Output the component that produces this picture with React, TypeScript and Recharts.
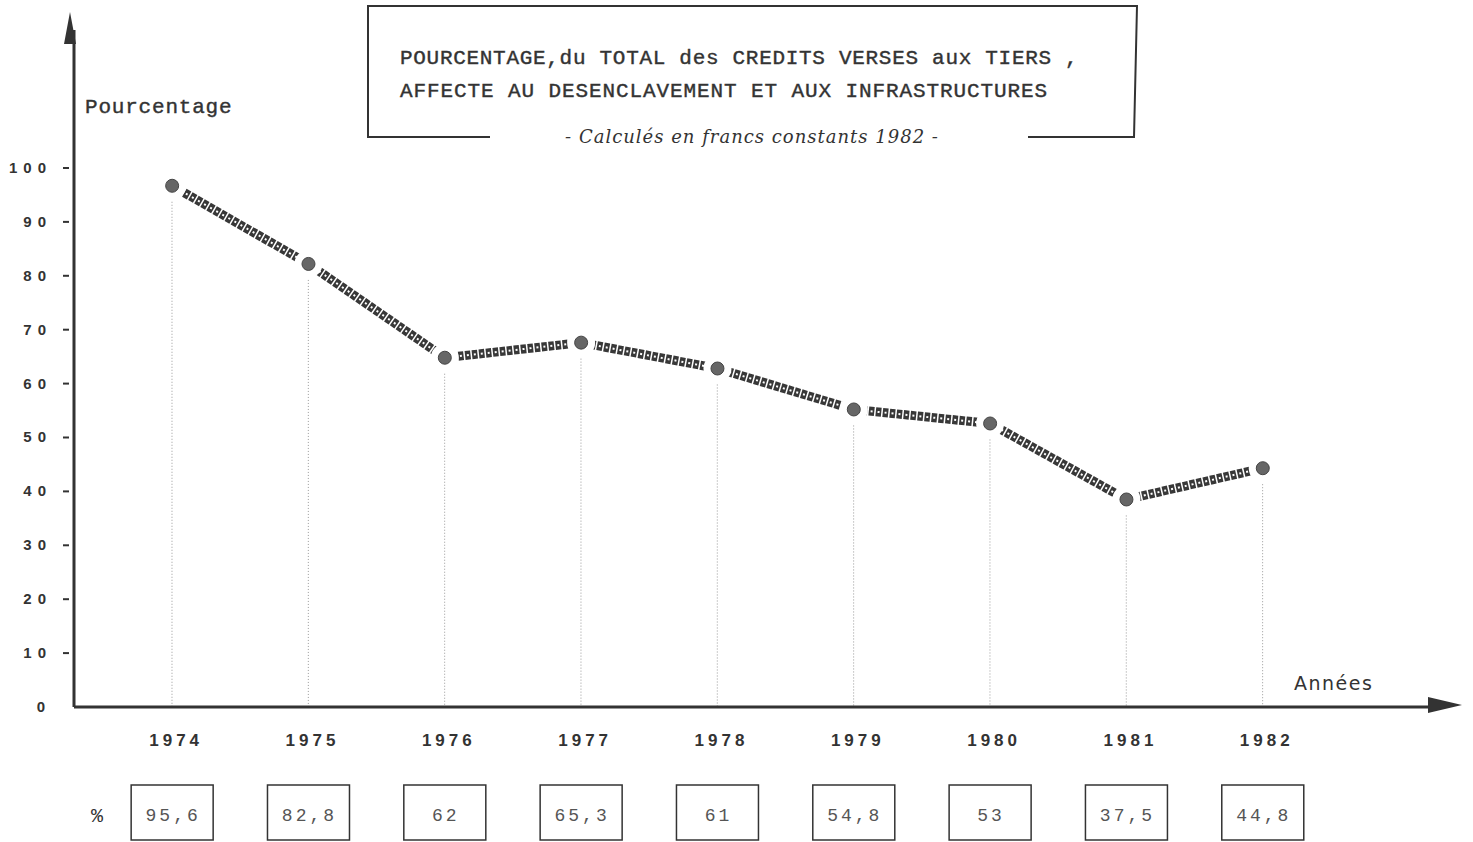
import { ComposedChart, Line, Bar, XAxis, YAxis } from "recharts";

const YEARS = [1974, 1975, 1976, 1977, 1978, 1979, 1980, 1981, 1982];
// position of the points as drawn on the plot
const PLOTTED = [96.7, 82.2, 64.8, 67.6, 62.8, 55.2, 52.6, 38.5, 44.3];
// values written in the boxes under the axis
const BOX_LABELS = ["95,6", "82,8", "62", "65,3", "61", "54,8", "53", "37,5", "44,8"];
const Y_TICKS = [0, 10, 20, 30, 40, 50, 60, 70, 80, 90, 100];

const TITLE_1 = "POURCENTAGE,du TOTAL des CREDITS VERSES aux TIERS ,";
const TITLE_2 = "AFFECTE AU DESENCLAVEMENT ET AUX INFRASTRUCTURES";
const SUBTITLE = "- Calculés en francs constants 1982 -";

const data = YEARS.map((year, i) => ({ year, value: PLOTTED[i] }));

const INK = "#333";
const MONO = "'Liberation Mono', 'DejaVu Sans Mono', monospace";
const NARROW = "'Liberation Sans Narrow', 'Liberation Sans', sans-serif";

function YTick(props: any) {
  const { x, y, payload } = props;
  if (payload.value === 0) {
    return (
      <text x={x - 33} y={y + 5} textAnchor="middle" fontFamily={NARROW} fontWeight="bold" fontSize={15} fill={INK}>
        0
      </text>
    );
  }
  return (
    <g>
      <text x={x - 22} y={y + 5} textAnchor="end" fontFamily={NARROW} fontWeight="bold" fontSize={15} letterSpacing={6} fill={INK}>
        {String(payload.value)}
      </text>
      <line x1={x - 11} x2={x - 5} y1={y} y2={y} stroke={INK} strokeWidth={2} />
    </g>
  );
}

function XTick(props: any) {
  const { x, y, payload } = props;
  const i = YEARS.indexOf(payload.value);
  return (
    <g>
      <text x={x + 4} y={y + 39} textAnchor="middle" fontFamily="Liberation Sans" fontWeight="bold" fontSize={17} letterSpacing={4} fill={INK}>
        {String(payload.value)}
      </text>
      <rect x={x - 41} y={y + 78} width={82} height={55} fill="none" stroke={INK} strokeWidth={1.5} />
      <text x={x + 1} y={y + 114} textAnchor="middle" fontFamily={MONO} fontSize={18} letterSpacing={3} fill="#555">
        {BOX_LABELS[i]}
      </text>
    </g>
  );
}

// dotted drop line from just under the point down to the axis
function DropLine(props: any) {
  const { x, y, width, height } = props;
  const cx = x + width / 2;
  return <line x1={cx} x2={cx} y1={y + 16} y2={y + height} stroke="#999" strokeDasharray="1 2" strokeWidth={1} />;
}

function Dot(props: any) {
  const { cx, cy } = props;
  return (
    <g>
      <circle cx={cx} cy={cy} r={14} fill="#fff" />
      <circle cx={cx} cy={cy} r={6.5} fill="#666" stroke="#444" strokeWidth={1} />
    </g>
  );
}

export default function App() {
  const textInk = { fill: INK, stroke: INK, strokeWidth: 0.4 };
  return (
    <div style={{ position: "absolute", left: 0, top: 0, width: 1473, height: 842, background: "#fff" }}>
      <ComposedChart width={1473} height={842} data={data} margin={{ top: 30, right: 33, bottom: 0, left: 0 }}>
        <XAxis
          dataKey="year"
          type="number"
          domain={[1973.28, 1983.3]}
          ticks={YEARS}
          height={135}
          tickLine={false}
          tickSize={0}
          tickMargin={0}
          axisLine={{ stroke: INK, strokeWidth: 3 }}
          tick={<XTick />}
          interval={0}
        />
        <YAxis
          type="number"
          domain={[0, 125.6]}
          ticks={Y_TICKS}
          width={74}
          tickLine={false}
          tickSize={0}
          tickMargin={0}
          axisLine={{ stroke: INK, strokeWidth: 3 }}
          tick={<YTick />}
          interval={0}
        />
        <Bar dataKey="value" barSize={2} shape={<DropLine />} isAnimationActive={false} />
        <Line
          dataKey="value"
          type="linear"
          stroke="#383838"
          strokeWidth={9}
          strokeDasharray="5.5 1.5"
          dot={false}
          activeDot={false}
          isAnimationActive={false}
        />
        <Line
          dataKey="value"
          type="linear"
          stroke="#fff"
          strokeWidth={2}
          strokeDasharray="2 5"
          strokeDashoffset={-1.8}
          dot={<Dot />}
          activeDot={false}
          isAnimationActive={false}
        />
      </ComposedChart>
      <svg width={1473} height={842} style={{ position: "absolute", left: 0, top: 0, pointerEvents: "none" }}>
        <polygon points="64,44 70,12 76,44" fill={INK} />
        <polygon points="1428,697 1462,705 1428,713" fill={INK} />
        <path d="M 490 137 L 368 137 L 368 6 L 1137 6 L 1134 137 L 1028 137" fill="none" stroke={INK} strokeWidth={2} />
        <text x={400} y={64} fontFamily={MONO} fontSize={21} letterSpacing={0.7} {...textInk}>
          {TITLE_1}
        </text>
        <text x={400} y={97} fontFamily={MONO} fontSize={21} letterSpacing={0.9} {...textInk}>
          {TITLE_2}
        </text>
        <text x={752} y={143} textAnchor="middle" fontFamily="'DejaVu Serif', serif" fontStyle="italic" fontSize={18} letterSpacing={1} fill={INK}>
          {SUBTITLE}
        </text>
        <text x={85} y={113} fontFamily={MONO} fontSize={21} letterSpacing={0.8} {...textInk}>
          Pourcentage
        </text>
        <text x={1294} y={690} fontFamily="'DejaVu Sans', sans-serif" fontSize={19} letterSpacing={1.5} fill={INK}>
          Années
        </text>
        <text x={97} y={822} textAnchor="middle" fontFamily={MONO} fontSize={20} fill={INK}>
          %
        </text>
      </svg>
    </div>
  );
}
